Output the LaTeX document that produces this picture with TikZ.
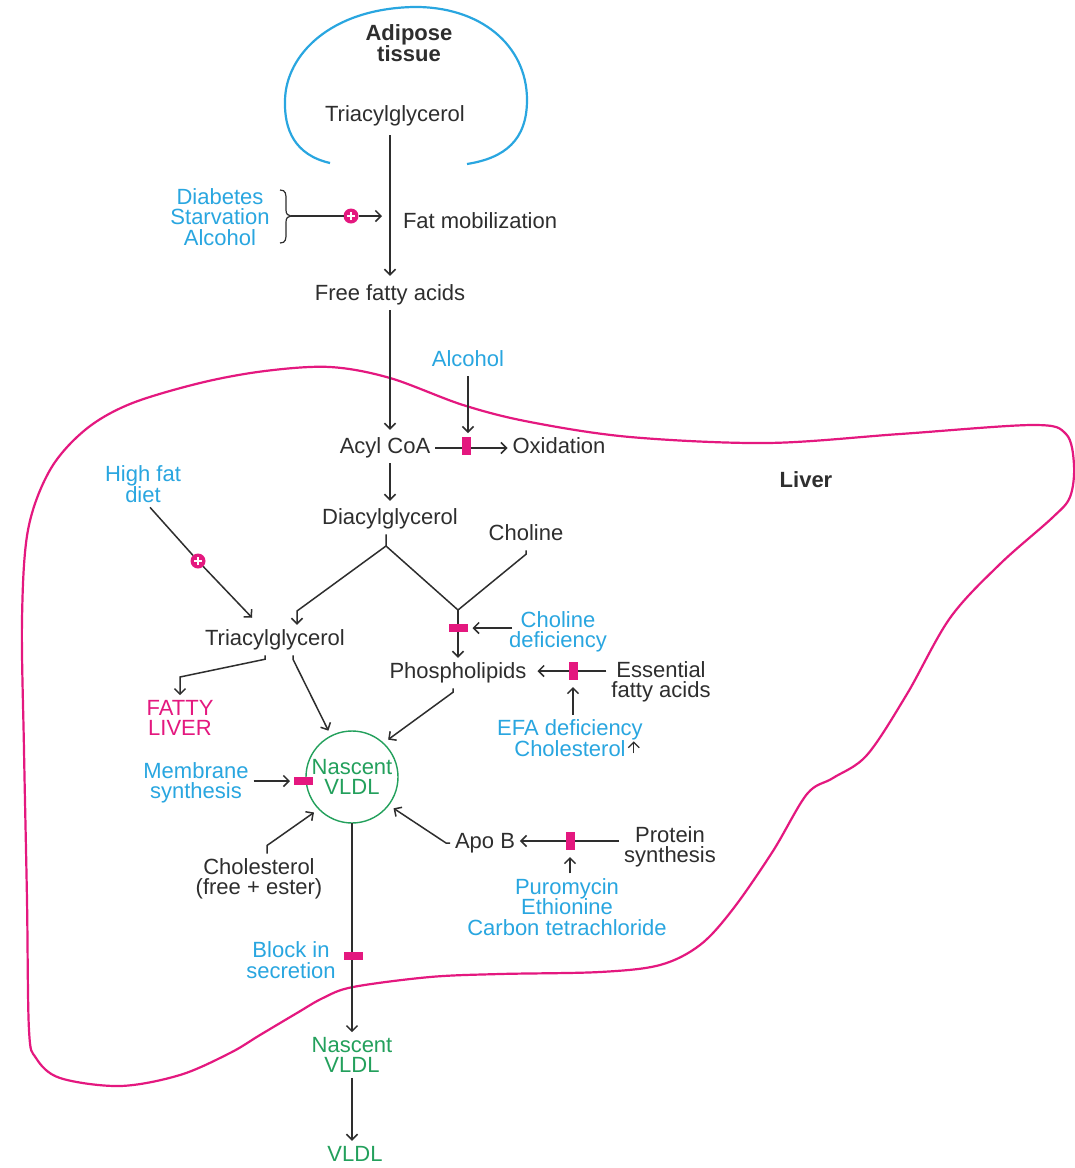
\documentclass[tikz,border=0pt]{standalone}
\usepackage{fontspec}
\setmainfont{Liberation Sans}
\usetikzlibrary{arrows.meta,calc}
\definecolor{tx}{HTML}{2E2E2E}
\definecolor{cy}{HTML}{29A6E0}
\definecolor{mg}{HTML}{E4187F}
\definecolor{gr}{HTML}{23A05C}
\newcommand{\fs}{\fontsize{22}{20.5}\selectfont\lineskiplimit=-50pt}
\newcommand{\plusmark}[1]{\draw[white,line width=2.2pt] ([xshift=-4pt]#1.center) -- ([xshift=4pt]#1.center) ([yshift=-4pt]#1.center) -- ([yshift=4pt]#1.center);}
\begin{document}
\begin{tikzpicture}[x=1pt,y=-1pt,
  every node/.style={inner sep=0pt, outer sep=5pt},
  t/.style={font=\fs, align=center, text=tx},
  tb/.style={font=\fs\bfseries, align=center, text=tx},
  one/.style={text height=16pt, text depth=4.5pt},
  bl/.style={t, text=cy},
  gn/.style={t, text=gr},
  mgt/.style={t, text=mg},
  ln/.style={draw=tx, line width=1.5pt},
  arr/.style={ln, -{Straight Barb[length=5.5pt,width=11pt]}},
  blkh/.style={fill=mg, minimum width=19pt, minimum height=8pt, outer sep=0pt},
  blkv/.style={fill=mg, minimum width=9pt, minimum height=18pt, outer sep=0pt},
  plusc/.style={circle, fill=mg, minimum size=15pt, outer sep=0pt},
  organ/.style={line width=2.2pt, line join=round}
]
\useasboundingbox[fill=white] (0,0) rectangle (1075,1168);

% outlines
\draw[organ, draw=cy] (330,163) .. controls (295,155) and (284,130) .. (285,100)
  .. controls (286,55) and (330,9) .. (413,7)
  .. controls (480,6) and (527,45) .. (527,100)
  .. controls (527,140) and (505,158) .. (467,164);
\draw[organ, draw=mg] plot[smooth cycle, tension=0.55] coordinates {
  (330,367) (390,378) (463,405) (530,422) (630,437) (767,443) (900,434)
  (1033,425) (1066,434) (1074,465) (1070,497) (1052,518) (1000,564)
  (950,618) (907,694) (867,755) (833,778) (807,794) (773,851) (733,909)
  (700,945) (660,965) (600,972) (500,974) (430,977) (353,987) (323,998)
  (297,1013) (260,1035) (230,1053) (180,1075) (120,1086) (60,1078)
  (36,1058) (29,1030) (27,900) (24,750) (22,620) (28,530) (50,470)
  (85,430) (130,404) (200,383) (265,371)};

% nodes
\node[tb] (adip) at (409,43) {Adipose\\tissue};
\node[t,one] (tga) at (395,116) {Triacylglycerol};
\node[t,one,anchor=west] (fatmob) at (398,223) {Fat mobilization};
\node[bl] (dsa) at (220,217) {Diabetes\\Starvation\\Alcohol};
\node[t,one] (ffa) at (390,295) {Free fatty acids};
\node[bl,one] (alc) at (468,361) {Alcohol};
\node[t,one] (acyl) at (385,448) {Acyl CoA};
\node[t,one] (oxid) at (559,448) {Oxidation};
\node[tb,one] (liver) at (806,482) {Liver};
\node[t,one] (dag) at (390,519) {Diacylglycerol};
\node[bl] (hfd) at (143,484) {High fat\\diet};
\node[t,one] (chol) at (526,535) {Choline};
\node[t,one] (tgl) at (275,640) {Triacylglycerol};
\node[bl] (chdef) at (558,632) {Choline\\deficiency};
\node[t,one] (phos) at (458,673) {Phospholipids};
\node[t] (efa) at (661,682) {Essential\\fatty acids};
\node[mgt] (fatty) at (180,718) {FATTY\\LIVER};
\node[bl] (efadef) at (570,738) {EFA deficiency\\Cholesterol};
\node[circle, draw=gr, line width=1.4pt, minimum size=92pt, outer sep=6pt, gn] (vc) at (352,777) {Nascent\\VLDL};
\node[bl] (memb) at (196,783) {Membrane\\synthesis};
\node[t] (cholest) at (259,879) {Cholesterol\\(free + ester)};
\node[t,one] (apob) at (485,843) {Apo B};
\node[t] (prot) at (670,847) {Protein\\synthesis};
\node[bl] (puro) at (567,907) {Puromycin\\Ethionine\\Carbon tetrachloride};
\node[bl] (block) at (291,960) {Block in\\secretion};
\node[gn] (nv2) at (352,1055) {Nascent\\VLDL};
\node[gn,one] (v3) at (355,1156) {VLDL};

% helper coordinates
\coordinate (brt) at (291,216);
\coordinate (dj) at (386,546);
\coordinate (tgk) at (297,611);
\coordinate (pj) at (458,610);
\coordinate (fk) at (180,677);

% plus circles
\node[plusc] (p1) at (351,216) {};
\node[plusc] (p2) at (198,561) {};

% connectors
\draw[arr, shorten <=4pt, shorten >=4pt] (tga.south -| ffa.north) -- (ffa.north);
\draw[ln, line width=1.2pt] (280,190) .. controls (286,190) and (286,194) .. (286,200) -- (286,210)
  .. controls (286,214) and (288,216) .. (brt) .. controls (288,216) and (286,218) .. (286,222)
  -- (286,233) .. controls (286,239) and (286,243) .. (280,243);
\draw[ln] (brt) -- (p1);
\draw[arr, shorten >=8pt] (p1) -- (p1 -| ffa.north);
\draw[arr, shorten >=3pt] (ffa.south) -- (acyl.north -| ffa.south);
\node[blkv] (blk1) at (466,446) {};
\draw[arr, shorten >=4pt] (alc.south) -- (alc.south |- blk1.north);
\draw[arr] (acyl.east) -- (oxid.west);
\node[blkv] at (blk1) {};
\draw[arr, shorten >=3pt] (acyl.south -| ffa.south) -- (dag.north);
\draw[arr] (dag.south -| dj) -- (dj) -- (tgk) -- (tgk |- tgl.north);
\draw[ln] (dj) -- (pj);
\draw[ln] (chol.south) -- ++(0,4) -- (pj);
\draw[arr] (pj) -- (phos.north -| pj);
\node[blkh] (blk2) at (458,628) {};
\draw[arr, shorten >=5pt] ([xshift=8pt,yshift=4pt]chdef.west) -- (blk2.east);
% hfd
\draw[ln] ([xshift=7pt]hfd.south) -- (p2);
\draw[arr] (p2) -- ([xshift=52pt,yshift=7pt]tgl.north west);
% tgl outputs
\draw[arr] ([xshift=-10pt]tgl.south) -- ++(0,4) -- (fk) -- (fatty.north);
\draw[arr] ([xshift=18pt]tgl.south) -- ++(0,4) -- (vc.117);
% phospholipids
\node[blkv] (blk4) at (573,671) {};
\draw[arr] (blk4 -| efa.west) -- ([xshift=6pt]blk4 -| phos.east);
\node[blkv] at (blk4) {};
\draw[arr, shorten >=7pt] (efadef.north -| blk4) -- (blk4.south);
\draw[arr, line width=1.3pt] ([xshift=-14pt,yshift=8pt]efadef.south east) -- ++(0,-12);
\draw[arr] ([xshift=-5pt]phos.south) -- ++(0,4) -- (vc.46);
% VLDL inputs
\node[blkh] (blk3) at (303.5,781) {};
\draw[arr, shorten >=4pt] (memb.east |- blk3) -- (blk3.west);
\draw[arr] ([xshift=8pt]cholest.north) -- ++(0,-8) -- (vc.223);
\draw[arr] (apob.west) -- ++(-4,0) -- (vc.-37);
\node[blkv] (blk5) at (570,841) {};
\draw[arr] (prot.west |- blk5) -- (blk5 -| apob.east);
\node[blkv] at (blk5) {};
\draw[arr, shorten >=7pt] (puro.north -| blk5) -- (blk5.south);
% secretion
\draw[arr, shorten <=-6pt] (vc.south) -- (vc.south |- nv2.north);
\node[blkh] (blk6) at (353,956) {};
\draw[arr] (nv2.south) -- (nv2.south |- v3.north);
\plusmark{p1}
\plusmark{p2}
\end{tikzpicture}
\end{document}
